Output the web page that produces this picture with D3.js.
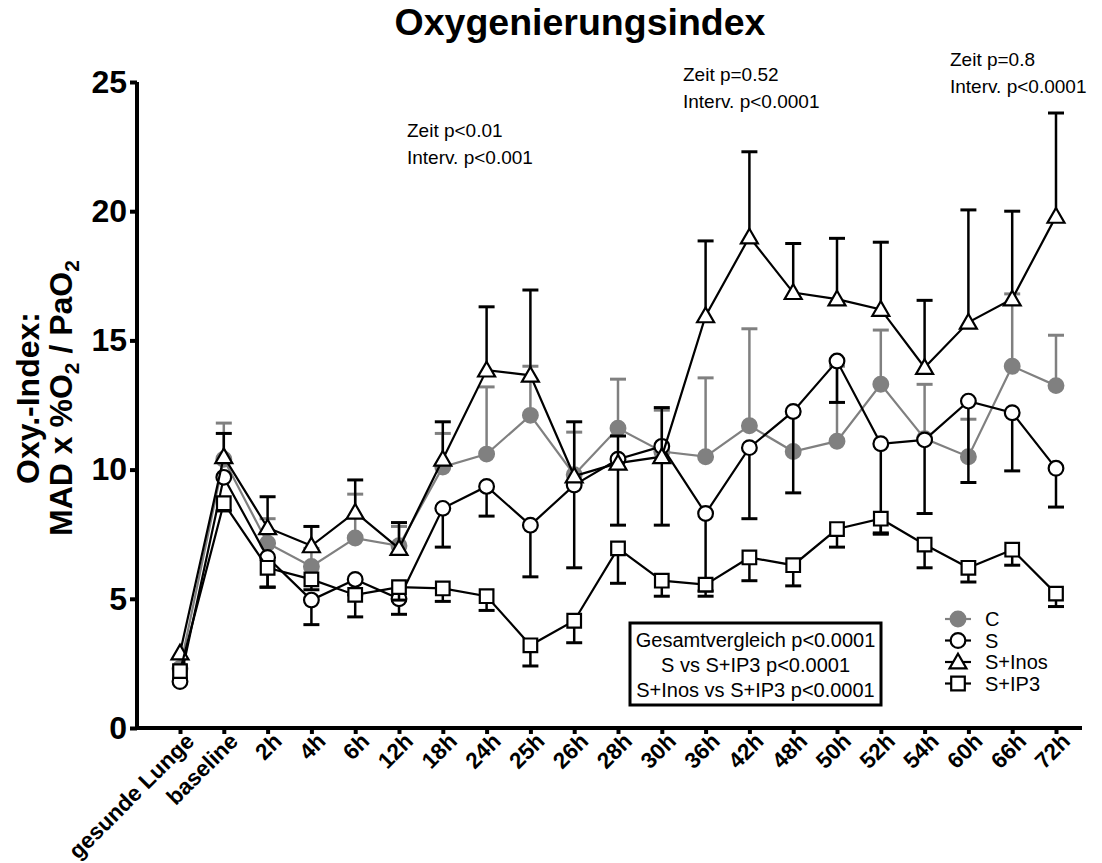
<!DOCTYPE html>
<html>
<head>
<meta charset="utf-8">
<script src="https://cdn.jsdelivr.net/npm/d3@7"></script>
<style>
  body { margin: 0; background: #fff; }
  svg { font-family: "Liberation Sans", Arial, sans-serif; }
</style>
</head>
<body>
<svg id="chart" width="1102" height="863"></svg>
<script>
let categories = ["gesunde Lunge", "baseline", "2h", "4h", "6h", "12h", "18h", "24h", "25h", "26h",
  "28h", "30h", "36h", "42h", "48h", "50h", "52h", "54h", "60h", "66h", "72h"];

// group means
let cValues     = [2.3, 10.4, 7.15, 6.25, 7.35, 7.05, 10.1, 10.6, 12.1, 9.8, 11.6, 10.7, 10.5, 11.7, 10.7, 11.1, 13.3, 11.2, 10.5, 14.0, 13.25];
let sValues     = [1.8, 9.7, 6.6, 4.95, 5.75, 5.0, 8.5, 9.35, 7.85, 9.4, 10.4, 10.9, 8.3, 10.85, 12.25, 14.2, 11.0, 11.15, 12.65, 12.2, 10.05];
let sInosValues = [2.9, 10.5, 7.75, 7.05, 8.35, 6.95, 10.4, 13.85, 13.65, 9.75, 10.25, 10.5, 15.95, 19.0, 16.85, 16.6, 16.2, 13.95, 15.7, 16.6, 19.8];
let sIp3Values  = [2.2, 8.7, 6.2, 5.75, 5.15, 5.45, 5.4, 5.1, 3.2, 4.15, 6.95, 5.7, 5.55, 6.6, 6.3, 7.7, 8.1, 7.1, 6.2, 6.9, 5.2];

// error bars (SEM)
let cErr     = [0, 1.4, 0.95, 0.7, 1.7, 0.75, 1.3, 2.6, 1.9, 1.65, 1.9, 1.6, 3.05, 3.75, 1.55, 2.9, 2.1, 2.1, 1.45, 2.8, 1.95];
let sErr     = [0, 0, 1.15, 0.95, 0.6, 0.6, 1.5, 1.15, 2.0, 3.2, 2.55, 3.05, 3.0, 2.75, 3.15, 1.6, 3.45, 2.85, 3.15, 2.25, 1.5];
let sInosErr = [0, 0.9, 1.2, 0.75, 1.25, 1.0, 1.45, 2.45, 3.3, 2.1, 1.05, 1.9, 2.9, 3.3, 1.9, 2.35, 2.6, 2.6, 4.35, 3.4, 4.0];
let sIp3Err  = [0, 0.3, 0.75, 0.4, 0.85, 0.5, 0.5, 0.55, 0.8, 0.85, 1.35, 0.6, 0.45, 0.9, 0.8, 0.7, 0.6, 0.9, 0.55, 0.6, 0.5];

let yTicks = [0, 5, 10, 15, 20, 25];

let annotations = [
  ["Zeit p<0.01", "Interv. p<0.001"],
  ["Zeit p=0.52", "Interv. p<0.0001"],
  ["Zeit p=0.8", "Interv. p<0.0001"]
];
let statLines = ["Gesamtvergleich p<0.0001", "S vs S+IP3 p<0.0001", "S+Inos vs S+IP3 p<0.0001"];

let series = [
  { name: "C", values: cValues, err: cErr, dir: 1, color: "#808080", fill: "#808080", shape: "circle" },
  { name: "S", values: sValues, err: sErr, dir: -1, color: "#000", fill: "#fff", shape: "circle" },
  { name: "S+Inos", values: sInosValues, err: sInosErr, dir: 1, color: "#000", fill: "#fff", shape: "triangle" },
  { name: "S+IP3", values: sIp3Values, err: sIp3Err, dir: -1, color: "#000", fill: "#fff", shape: "square" }
];

let svg = d3.select("#chart");

let x = d3.scalePoint().domain(categories).range([180, 1056]);
let y = d3.scaleLinear().domain([0, 25]).range([728, 82]);

// title
svg.append("text")
  .attr("x", 580).attr("y", 35)
  .attr("text-anchor", "middle")
  .attr("font-size", "37.5px").attr("font-weight", "bold")
  .text("Oxygenierungsindex");

// y axis
let yAxis = svg.append("g")
  .attr("transform", "translate(137,0)")
  .call(d3.axisLeft(y).tickValues(yTicks).tickSize(7).tickPadding(3));
yAxis.select(".domain").attr("stroke-width", 4).attr("d", "M0," + y(25) + "V" + y(0));
yAxis.selectAll(".tick line").attr("stroke-width", 4);
yAxis.selectAll(".tick text")
  .attr("font-size", "32px").attr("font-weight", "bold")
  .attr("font-family", "Liberation Sans, Arial, sans-serif").attr("fill", "#000");

// x axis
let xAxis = svg.append("g")
  .attr("transform", "translate(0," + y(0) + ")")
  .call(d3.axisBottom(x).tickSize(6).tickFormat(""));
xAxis.select(".domain").attr("stroke-width", 4).attr("d", "M135,0H1082");
xAxis.selectAll(".tick line").attr("stroke-width", 4);

svg.append("g").selectAll("text")
  .data(categories)
  .enter()
  .append("text")
  .attr("transform", d => "translate(" + (x(d) + 10) + "," + (y(0) + 9) + ") rotate(-45)")
  .attr("text-anchor", "end")
  .attr("dy", "0.35em")
  .attr("font-size", "22.5px").attr("font-weight", "bold")
  .text(d => d);

// y axis title
let yTitle = svg.append("text")
  .attr("transform", "translate(39,398) rotate(-90)")
  .attr("text-anchor", "middle")
  .attr("font-size", "32px").attr("font-weight", "bold");
yTitle.append("tspan").attr("x", 0).attr("y", 0).text("Oxy.-Index:");
let l2 = yTitle.append("tspan").attr("x", 0).attr("y", 33);
l2.append("tspan").text("MAD x %O");
l2.append("tspan").attr("font-size", "21px").attr("dy", 7).text("2");
l2.append("tspan").attr("dy", -7).text(" / PaO");
l2.append("tspan").attr("font-size", "21px").attr("dy", 7).text("2");

// series
let symbolFor = (shape) => {
  if (shape === "triangle") return d3.symbol().type(d3.symbolTriangle).size(125)();
  if (shape === "square") return d3.symbol().type(d3.symbolSquare).size(185)();
  return d3.symbol().type(d3.symbolCircle).size(170)();
};

let line = d3.line().x((d, i) => x(categories[i])).y(d => y(d));

series.forEach(s => {
  let g = svg.append("g");
  // error bars
  let bars = g.selectAll(".err")
    .data(s.values.map((v, i) => ({ v: v, e: s.err[i], c: categories[i] })).filter(d => d.e > 0))
    .enter().append("g");
  bars.append("line")
    .attr("x1", d => x(d.c)).attr("x2", d => x(d.c))
    .attr("y1", d => y(d.v)).attr("y2", d => y(d.v + s.dir * d.e))
    .attr("stroke", s.color).attr("stroke-width", 2.5);
  bars.append("line")
    .attr("x1", d => x(d.c) - 8).attr("x2", d => x(d.c) + 8)
    .attr("y1", d => y(d.v + s.dir * d.e)).attr("y2", d => y(d.v + s.dir * d.e))
    .attr("stroke", s.color).attr("stroke-width", 3);
  g.append("path")
    .attr("d", line(s.values))
    .attr("fill", "none").attr("stroke", s.color).attr("stroke-width", 2.2);
  g.selectAll(".pt")
    .data(s.values)
    .enter().append("path")
    .attr("d", symbolFor(s.shape))
    .attr("transform", (d, i) => "translate(" + x(categories[i]) + "," + (y(d) + (s.shape === "triangle" ? 1.5 : 0)) + ")")
    .attr("fill", s.fill).attr("stroke", s.color).attr("stroke-width", 2.2);
});

// annotations
let annoPos = [[407, 137], [683, 81], [950, 66]];
annotations.forEach((a, k) => {
  let t = svg.append("text").attr("font-size", "19px");
  a.forEach((l, i) => {
    t.append("tspan").attr("x", annoPos[k][0]).attr("y", annoPos[k][1] + i * 26.5).text(l);
  });
});

// stats box
svg.append("rect")
  .attr("x", 630).attr("y", 623).attr("width", 251).attr("height", 82)
  .attr("fill", "#fff").attr("stroke", "#000").attr("stroke-width", 3);
let st = svg.append("text").attr("text-anchor", "middle").attr("font-size", "20px");
statLines.forEach((l, i) => {
  st.append("tspan").attr("x", 755.5).attr("y", 647 + i * 25).text(l);
});

// legend
let legend = svg.append("g").attr("transform", "translate(958,619)");
series.forEach((s, i) => {
  let row = legend.append("g").attr("transform", "translate(0," + (i * 21.5) + ")");
  row.append("line").attr("x1", -13).attr("x2", 13)
    .attr("stroke", s.color).attr("stroke-width", 2.2);
  row.append("path").attr("d", symbolFor(s.shape))
    .attr("transform", s.shape === "triangle" ? "translate(0,1.5)" : null)
    .attr("fill", s.fill).attr("stroke", s.color).attr("stroke-width", 2.2);
  row.append("text").attr("x", 27).attr("dy", "0.35em")
    .attr("font-size", "20px").text(s.name);
});
</script>
</body>
</html>
